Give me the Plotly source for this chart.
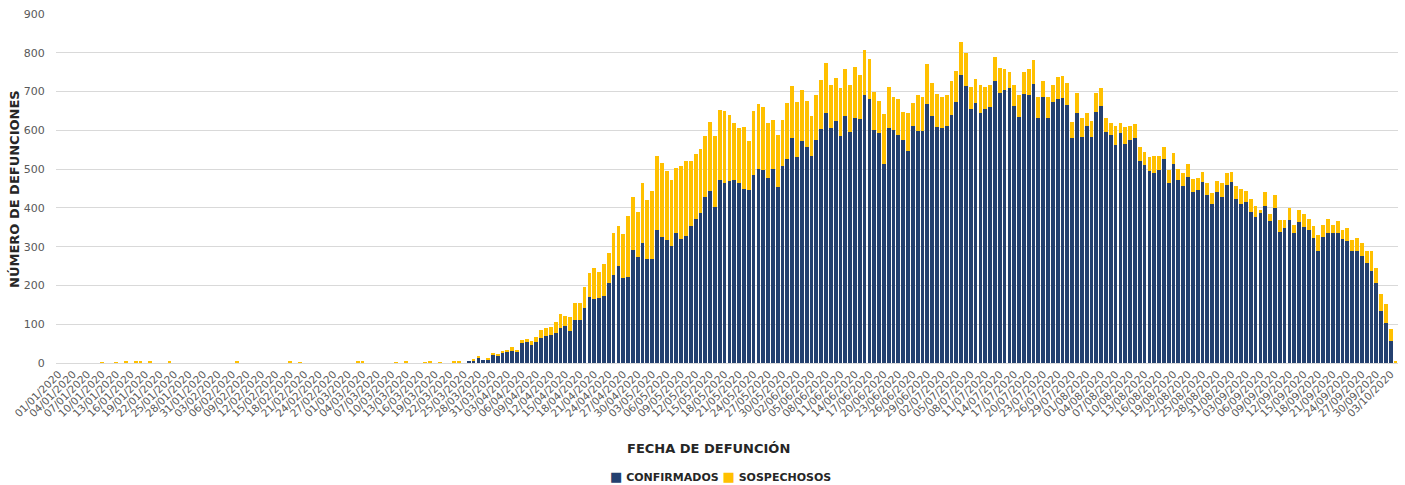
import pandas as pd
import plotly.graph_objects as go

# Category labels: one per day, 01/01/2020 .. 04/10/2020
fechas = [d.strftime("%d/%m/%Y") for d in pd.date_range("2020-01-01", "2020-10-04", freq="D")]

# Confirmed deaths from day index 85 (26/03) to 276 (03/10)
conf_tail = [
    6, 7, 14, 8, 10, 20, 19, 25, 30, 31, 28, 51, 54, 47, 53, 64, 69, 72, 78, 91,
    95, 82, 112, 112, 142, 171, 166, 167, 173, 207, 228, 249, 219, 222, 292, 273, 310, 269, 269, 342,
    324, 316, 303, 334, 321, 328, 354, 372, 388, 429, 444, 403, 471, 463, 469, 471, 463, 450, 445, 485,
    500, 499, 477, 501, 455, 507, 526, 581, 532, 573, 556, 534, 574, 604, 644, 606, 624, 585, 637, 597,
    631, 630, 692, 680, 600, 592, 513, 605, 602, 588, 575, 547, 611, 599, 599, 667, 637, 609, 605, 611,
    639, 674, 742, 714, 654, 671, 645, 655, 661, 727, 695, 704, 708, 663, 635, 693, 692, 719, 633, 686,
    633, 674, 680, 683, 666, 579, 644, 582, 611, 583, 648, 663, 595, 587, 561, 592, 566, 576, 581, 521,
    510, 495, 491, 498, 525, 463, 513, 471, 457, 479, 440, 446, 466, 434, 411, 442, 427, 458, 466, 422,
    411, 414, 389, 377, 388, 404, 365, 401, 339, 348, 368, 334, 363, 351, 342, 322, 289, 326, 335, 334,
    335, 320, 314, 290, 290, 276, 258, 237, 207, 134, 104, 56,
]
# Total (confirmed + suspected) for the same days
total_tail = [
    6, 8, 18, 8, 13, 27, 22, 31, 34, 42, 34, 60, 62, 56, 66, 84, 89, 93, 107, 126,
    122, 119, 156, 156, 196, 231, 246, 235, 255, 283, 334, 354, 332, 380, 428, 390, 465, 420, 444, 535,
    517, 494, 472, 503, 508, 522, 522, 538, 551, 586, 622, 585, 652, 650, 640, 618, 607, 609, 573, 649,
    668, 659, 618, 627, 587, 627, 670, 715, 673, 704, 676, 637, 691, 730, 773, 717, 736, 708, 757, 717,
    763, 743, 807, 784, 700, 676, 642, 713, 687, 682, 648, 644, 670, 692, 687, 772, 721, 694, 686, 692,
    726, 753, 827, 799, 712, 732, 717, 712, 716, 789, 762, 757, 751, 717, 692, 750, 757, 781, 686, 726,
    686, 717, 737, 739, 721, 622, 696, 632, 644, 625, 697, 710, 632, 618, 612, 620, 609, 610, 617, 557,
    543, 532, 534, 534, 556, 498, 542, 500, 490, 512, 474, 476, 492, 463, 438, 470, 465, 489, 492, 457,
    450, 444, 424, 405, 395, 441, 383, 433, 369, 369, 400, 357, 395, 385, 372, 354, 330, 355, 371, 355,
    367, 342, 347, 317, 323, 309, 290, 289, 245, 177, 151, 88,
]
# Early suspected-only days (index: value) and the last day
sosp_early = {9: 2, 12: 2, 14: 3, 16: 4, 17: 5, 19: 3, 23: 3, 37: 3, 48: 3, 50: 2,
              62: 4, 63: 4, 70: 2, 72: 3, 76: 2, 77: 3, 79: 2, 82: 3, 83: 3}
sosp_last = 3

confirmados = [0] * 85 + conf_tail + [0]
sospechosos = [sosp_early.get(i, 0) for i in range(85)] + \
    [t - c for t, c in zip(total_tail, conf_tail)] + [sosp_last]

tick_vals = fechas[0:277:3]

NAVY = "#24406F"
GOLD = "#FFC000"
FONT = "DejaVu Sans"

fig = go.Figure()
fig.add_trace(go.Bar(x=fechas, y=confirmados, name="CONFIRMADOS",
                     marker=dict(color=NAVY, line=dict(width=0))))
fig.add_trace(go.Bar(x=fechas, y=sospechosos, name="SOSPECHOSOS",
                     marker=dict(color=GOLD, line=dict(width=0))))

legend_text = (f"<span style='color:{NAVY};font-size:13px'>■</span><b> CONFIRMADOS </b>"
               f"<span style='color:{GOLD};font-size:13px'>■</span><b> SOSPECHOSOS</b>")

fig.update_layout(
    width=1405, height=485,
    barmode="stack", bargap=0.22,
    plot_bgcolor="white", paper_bgcolor="white",
    margin=dict(l=56, r=7, t=14, b=122, autoexpand=False),
    font=dict(family=FONT, color="#595959"),
    showlegend=False,
    xaxis=dict(type="category", tickmode="array", tickvals=tick_vals, ticktext=tick_vals,
               tickangle=-45, tickfont=dict(size=10.5, color="#595959"), automargin=False,
               showline=True, linecolor="#D9D9D9", linewidth=1, ticks="", showgrid=False),
    yaxis=dict(range=[0, 900], dtick=100, showgrid=True, gridcolor="#D9D9D9", gridwidth=1,
               zeroline=False, showline=False, tickfont=dict(size=11, color="#595959"),
               ticks="outside", ticklen=8, tickcolor="white", automargin=False),
    annotations=[
        dict(text="<b>FECHA DE DEFUNCIÓN</b>", xref="paper", yref="paper",
             x=0.486, y=-0.2436, xanchor="center", yanchor="middle", showarrow=False,
             font=dict(family=FONT, size=13, color="#262626")),
        dict(text="<b>NÚMERO DE DEFUNCIONES</b>", xref="paper", yref="paper",
             x=-0.0306, y=0.4986, xanchor="center", yanchor="middle", showarrow=False,
             textangle=-90, font=dict(family=FONT, size=13, color="#262626")),
        dict(text=legend_text, xref="paper", yref="paper",
             x=0.4948, y=-0.3238, xanchor="center", yanchor="middle", showarrow=False,
             font=dict(family=FONT, size=11, color="#262626")),
    ],
)

fig.write_html("out.html", config={"displayModeBar": False},
               post_script="document.body.style.margin='0';")
